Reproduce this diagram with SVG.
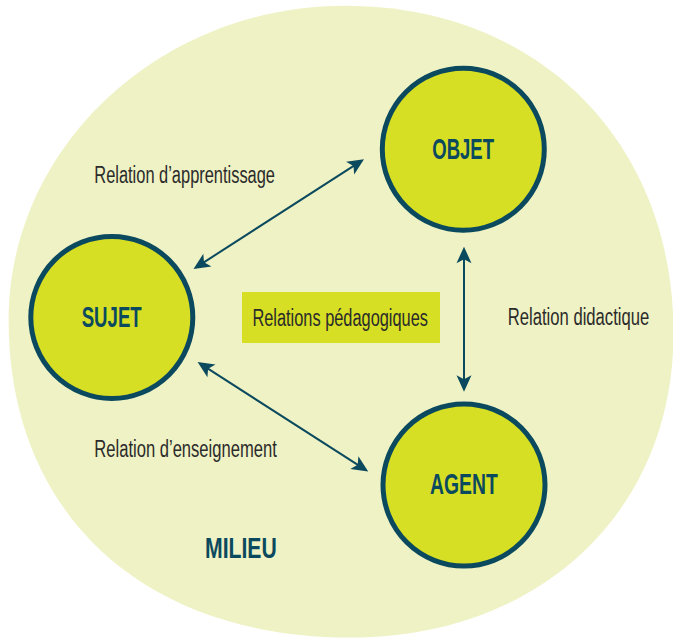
<svg xmlns="http://www.w3.org/2000/svg" width="673" height="638" viewBox="0 0 673 638">
  <style>
    .node { fill: #d6df23; stroke: #0b4a5e; stroke-width: 5; }
    .nlabel { font-family: "Liberation Sans Narrow", "Liberation Sans", Arial, sans-serif; font-weight: bold; font-size: 30px; fill: #0b4a5e; }
    .rlabel { font-family: "Liberation Sans Narrow", "Liberation Sans", Arial, sans-serif; font-size: 23px; fill: #2b2b2b; }
    .conn { stroke: #0b4a5e; stroke-width: 2; fill: none; marker-start: url(#ah); marker-end: url(#ah); }
  </style>
  <defs>
    <marker id="ah" viewBox="-18 -8 19 16" refX="-10" refY="0" markerWidth="19" markerHeight="16" markerUnits="userSpaceOnUse" orient="auto-start-reverse">
      <path d="M0,0 L-16.5,-7.5 L-12.5,0 L-16.5,7.5 Z" fill="#0b4a5e"/>
    </marker>
  </defs>

  <g id="milieu">
    <path d="M345,5.7 C537.8,5.7 673.5,140.9 673.5,333 C673.5,511.7 539.9,637.5 350,637.5 C142.4,637.5 8.6,513 8.6,320 C8.6,147.1 160,5.7 345,5.7 Z" fill="#eff2c4"/>
    <text class="nlabel" x="205" y="558" textLength="71.8" lengthAdjust="spacingAndGlyphs">MILIEU</text>
  </g>

  <g id="connectors">
    <line class="conn" x1="201.9" y1="263.6" x2="355.6" y2="164.6"/>
    <line class="conn" x1="206.0" y1="367.4" x2="359.8" y2="466.1"/>
    <line class="conn" x1="464" y1="256.7" x2="464" y2="381.7"/>
  </g>

  <g id="label-apprentissage">
    <text class="rlabel" x="94.3" y="183.3" textLength="180.7" lengthAdjust="spacingAndGlyphs">Relation d’apprentissage</text>
  </g>
  <g id="label-enseignement">
    <text class="rlabel" x="94.3" y="457.3" textLength="182.5" lengthAdjust="spacingAndGlyphs">Relation d’enseignement</text>
  </g>
  <g id="label-didactique">
    <text class="rlabel" x="507.7" y="324.5" textLength="141.6" lengthAdjust="spacingAndGlyphs">Relation didactique</text>
  </g>

  <g id="pedagogiques">
    <rect x="242" y="292" width="198" height="51" fill="#d6df23"/>
    <text class="rlabel" x="252.4" y="325.5" textLength="175.6" lengthAdjust="spacingAndGlyphs">Relations pédagogiques</text>
  </g>

  <g id="sujet">
    <circle class="node" cx="111.8" cy="317.4" r="81"/>
    <text class="nlabel" x="81.7" y="326.7" textLength="60" lengthAdjust="spacingAndGlyphs">SUJET</text>
  </g>
  <g id="objet">
    <circle class="node" cx="463.3" cy="149.2" r="81"/>
    <text class="nlabel" x="432.3" y="159.3" textLength="61.7" lengthAdjust="spacingAndGlyphs">OBJET</text>
  </g>
  <g id="agent">
    <circle class="node" cx="464" cy="485" r="81"/>
    <text class="nlabel" x="430" y="494" textLength="67.7" lengthAdjust="spacingAndGlyphs">AGENT</text>
  </g>
</svg>
